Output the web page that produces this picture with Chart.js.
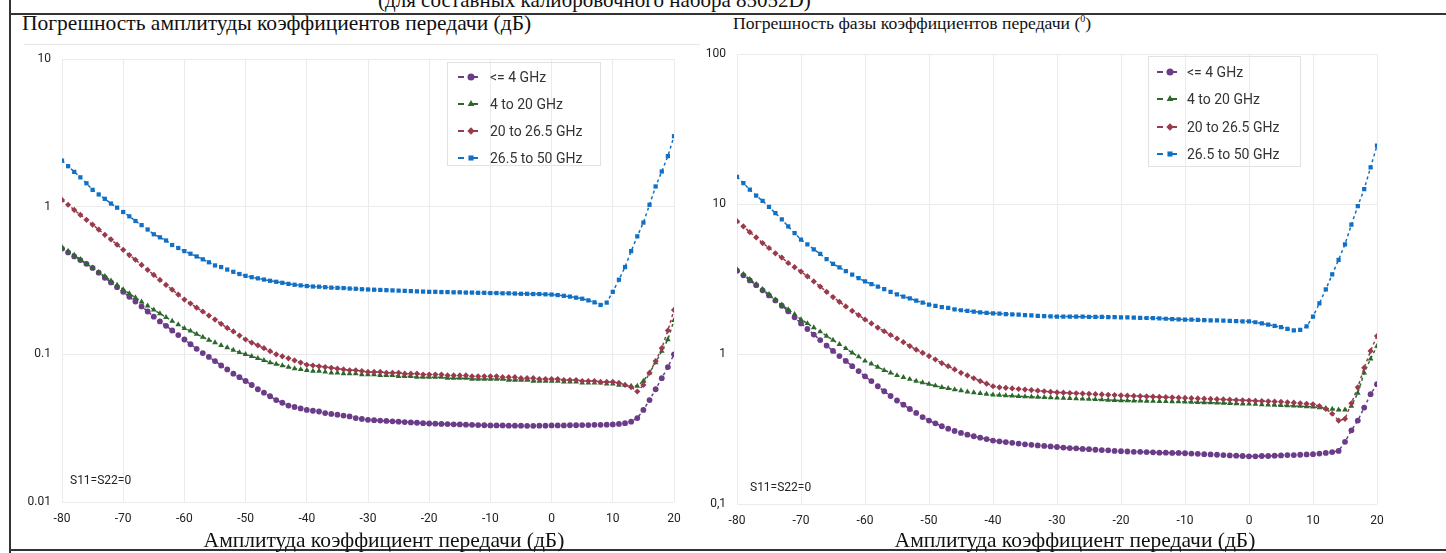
<!DOCTYPE html>
<html>
<head>
<meta charset="utf-8">
<script src="https://cdn.jsdelivr.net/npm/chart.js@4.4.1/dist/chart.umd.min.js"></script>
<style>
  body { margin: 0; width: 1446px; height: 553px; overflow: hidden; background: #fff; position: relative; font-family: Roboto, sans-serif; }
  .serif { position: absolute; font-family: "Liberation Serif", serif; color: #111; white-space: nowrap; line-height: 1; }
  .note { position: absolute; font-size: 12px; color: #222; white-space: nowrap; line-height: 1; }
  .line { position: absolute; background: #333; }
  .box { position: absolute; }
</style>
</head>
<body>

<div class="serif" style="left:378px; top:-10px; font-size:21px;">(для составных калибровочного набора 85052D)</div>
<div class="line" style="left:10px; top:13px; width:1436px; height:2px;"></div>
<div class="line" style="left:9px; top:0; width:2px; height:553px;"></div>
<div class="line" style="left:10px; top:549px; width:1436px; height:2px;"></div>
<div class="line" style="left:24px; top:44px; width:676px; height:1px; background:#e6e6e6;"></div>

<div class="serif" style="left:22px; top:13px; font-size:21.5px;">Погрешность амплитуды коэффициентов передачи (дБ)</div>
<div class="serif" style="left:733px; top:14px; font-size:17.6px;">Погрешность фазы коэффициентов передачи (<sup style="font-size:10px">0</sup>)</div>

<div class="box" style="left:12px; top:40px; width:684px; height:500px;"><canvas id="ampChart"></canvas></div>
<div class="box" style="left:700px; top:36px; width:700px; height:506px;"><canvas id="phaseChart"></canvas></div>

<div class="note" style="left:70px; top:474px;">S11=S22=0</div>
<div class="note" style="left:750px; top:481px;">S11=S22=0</div>

<div class="serif" style="left:384px; top:530px; font-size:21.5px; transform:translateX(-50%);">Амплитуда коэффициент передачи (дБ)</div>
<div class="serif" style="left:1075px; top:530px; font-size:21.5px; transform:translateX(-50%);">Амплитуда коэффициент передачи (дБ)</div>

<script>
// ось X: амплитуда коэффициента передачи, дБ
const xs = [
  -80, -79, -78, -77, -76, -75, -74, -73, -72, -71, -70,
  -69, -68, -67, -66, -65, -64, -63, -62, -61, -60,
  -59, -58, -57, -56, -55, -54, -53, -52, -51, -50,
  -49, -48, -47, -46, -45, -44, -43, -42, -41, -40,
  -39, -38, -37, -36, -35, -34, -33, -32, -31, -30,
  -29, -28, -27, -26, -25, -24, -23, -22, -21, -20,
  -19, -18, -17, -16, -15, -14, -13, -12, -11, -10,
  -9, -8, -7, -6, -5, -4, -3, -2, -1, 0,
  1, 2, 3, 4, 5, 6, 7, 8, 9, 10,
  11, 12, 13, 14, 15, 16, 17, 18, 19, 20
];

const seriesNames = ["<= 4 GHz", "4 to 20 GHz", "20 to 26.5 GHz", "26.5 to 50 GHz"];

// погрешность амплитуды, дБ
const ampLe4 = [
  0.52, 0.49, 0.46, 0.435, 0.41, 0.385, 0.357, 0.33, 0.307, 0.285, 0.265,
  0.245, 0.228, 0.211, 0.195, 0.18, 0.167, 0.156, 0.145, 0.135, 0.126,
  0.117, 0.109, 0.102, 0.096, 0.09, 0.084, 0.079, 0.074, 0.07, 0.066,
  0.062, 0.058, 0.055, 0.052, 0.049, 0.047, 0.045, 0.044, 0.043, 0.042,
  0.0415, 0.041, 0.04, 0.0395, 0.039, 0.0385, 0.038, 0.037, 0.0365, 0.036,
  0.0358, 0.0356, 0.0354, 0.0352, 0.035, 0.0348, 0.0346, 0.0344, 0.0342, 0.034,
  0.0339, 0.0338, 0.0337, 0.0336, 0.0335, 0.0334, 0.0333, 0.0332, 0.0331, 0.033,
  0.033, 0.033, 0.0329, 0.0329, 0.0329, 0.0328, 0.0328, 0.0329, 0.0329, 0.033,
  0.033, 0.033, 0.0331, 0.0331, 0.0332, 0.0332, 0.0333, 0.0333, 0.0334, 0.0335,
  0.0338, 0.0342, 0.035, 0.037, 0.042, 0.049, 0.058, 0.069, 0.082, 0.1
];
const amp4to20 = [
  0.53, 0.5, 0.47, 0.44, 0.41, 0.385, 0.36, 0.337, 0.315, 0.295, 0.275,
  0.258, 0.242, 0.227, 0.213, 0.2, 0.189, 0.178, 0.168, 0.159, 0.15,
  0.144, 0.137, 0.131, 0.125, 0.12, 0.115, 0.111, 0.107, 0.103, 0.1,
  0.097, 0.094, 0.091, 0.088, 0.086, 0.084, 0.082, 0.08, 0.079, 0.078,
  0.077, 0.077, 0.076, 0.075, 0.075, 0.074, 0.074, 0.074, 0.073, 0.073,
  0.073, 0.072, 0.072, 0.072, 0.071, 0.071, 0.071, 0.07, 0.07, 0.07,
  0.07, 0.07, 0.069, 0.069, 0.069, 0.069, 0.068, 0.068, 0.068, 0.068,
  0.068, 0.068, 0.067, 0.067, 0.067, 0.067, 0.066, 0.066, 0.066, 0.066,
  0.066, 0.065, 0.065, 0.065, 0.064, 0.064, 0.064, 0.064, 0.063, 0.063,
  0.062, 0.062, 0.061, 0.061, 0.066, 0.075, 0.088, 0.105, 0.126, 0.17
];
const amp20to26 = [
  1.11, 1.03, 0.95, 0.88, 0.815, 0.755, 0.7, 0.645, 0.6, 0.553, 0.51,
  0.47, 0.437, 0.403, 0.373, 0.345, 0.319, 0.295, 0.274, 0.254, 0.235,
  0.221, 0.207, 0.195, 0.183, 0.172, 0.161, 0.151, 0.143, 0.134, 0.126,
  0.12, 0.115, 0.11, 0.105, 0.1, 0.097, 0.094, 0.091, 0.088, 0.085,
  0.084, 0.083, 0.082, 0.081, 0.08, 0.079, 0.078, 0.078, 0.077, 0.076,
  0.076, 0.076, 0.075, 0.075, 0.075, 0.074, 0.074, 0.074, 0.073, 0.073,
  0.073, 0.073, 0.072, 0.072, 0.072, 0.072, 0.071, 0.071, 0.071, 0.071,
  0.071, 0.07, 0.07, 0.07, 0.069, 0.069, 0.069, 0.068, 0.068, 0.068,
  0.068, 0.067, 0.067, 0.067, 0.066, 0.066, 0.066, 0.065, 0.065, 0.065,
  0.064, 0.062, 0.06, 0.056, 0.062, 0.075, 0.09, 0.11, 0.145, 0.2
];
const amp26to50 = [
  2.05, 1.88, 1.72, 1.58, 1.44, 1.3, 1.21, 1.13, 1.05, 0.985, 0.92,
  0.86, 0.8, 0.75, 0.7, 0.65, 0.62, 0.59, 0.55, 0.525, 0.5,
  0.48, 0.46, 0.44, 0.42, 0.4, 0.39, 0.375, 0.362, 0.35, 0.34,
  0.333, 0.327, 0.321, 0.315, 0.31, 0.305, 0.3, 0.296, 0.293, 0.29,
  0.288, 0.287, 0.285, 0.283, 0.282, 0.281, 0.279, 0.278, 0.276, 0.275,
  0.274, 0.273, 0.272, 0.271, 0.27, 0.269, 0.268, 0.267, 0.266, 0.265,
  0.265, 0.264, 0.264, 0.263, 0.263, 0.262, 0.262, 0.261, 0.261, 0.26,
  0.26, 0.259, 0.259, 0.258, 0.257, 0.257, 0.256, 0.256, 0.255, 0.254,
  0.252, 0.249, 0.246, 0.242, 0.238, 0.232, 0.225, 0.216, 0.224, 0.265,
  0.32, 0.39, 0.5, 0.63, 0.78, 1.03, 1.37, 1.73, 2.2, 3.0
];

// погрешность фазы, градусы
const phaseLe4 = [
  3.6, 3.35, 3.1, 2.88, 2.66, 2.46, 2.28, 2.1, 1.93, 1.76, 1.6,
  1.47, 1.35, 1.24, 1.14, 1.05, 0.97, 0.9, 0.83, 0.77, 0.71,
  0.66, 0.61, 0.565, 0.525, 0.49, 0.46, 0.43, 0.405, 0.38, 0.36,
  0.345, 0.33, 0.318, 0.307, 0.298, 0.29, 0.283, 0.277, 0.271, 0.265,
  0.262, 0.259, 0.256, 0.253, 0.25, 0.248, 0.246, 0.244, 0.242, 0.24,
  0.238, 0.236, 0.235, 0.233, 0.232, 0.23, 0.229, 0.228, 0.226, 0.225,
  0.224, 0.223, 0.223, 0.222, 0.221, 0.22, 0.22, 0.219, 0.219, 0.218,
  0.217, 0.216, 0.215, 0.214, 0.213, 0.212, 0.211, 0.21, 0.209, 0.208,
  0.208, 0.209, 0.209, 0.21, 0.211, 0.212, 0.212, 0.213, 0.214, 0.215,
  0.217, 0.219, 0.222, 0.226, 0.26, 0.31, 0.36, 0.44, 0.54, 0.63
];
const phase4to20 = [
  3.66, 3.4, 3.15, 2.92, 2.7, 2.5, 2.3, 2.13, 1.98, 1.84, 1.7,
  1.6, 1.5, 1.41, 1.32, 1.24, 1.16, 1.09, 1.02, 0.96, 0.9,
  0.86, 0.82, 0.78, 0.75, 0.72, 0.7, 0.68, 0.66, 0.645, 0.63,
  0.615, 0.6, 0.59, 0.58, 0.57, 0.56, 0.553, 0.547, 0.541, 0.535,
  0.532, 0.529, 0.526, 0.523, 0.52, 0.518, 0.516, 0.514, 0.512, 0.51,
  0.508, 0.506, 0.504, 0.502, 0.5, 0.498, 0.496, 0.494, 0.492, 0.49,
  0.489, 0.488, 0.487, 0.486, 0.485, 0.484, 0.483, 0.482, 0.481, 0.48,
  0.478, 0.477, 0.475, 0.474, 0.472, 0.471, 0.469, 0.468, 0.466, 0.465,
  0.463, 0.461, 0.459, 0.457, 0.455, 0.453, 0.451, 0.449, 0.447, 0.445,
  0.44, 0.435, 0.43, 0.425, 0.425, 0.45, 0.55, 0.75, 0.93, 1.13
];
const phase20to26 = [
  7.7, 7.1, 6.5, 6.0, 5.5, 5.1, 4.7, 4.4, 4.05, 3.8, 3.55,
  3.3, 3.05, 2.82, 2.6, 2.4, 2.23, 2.08, 1.94, 1.82, 1.7,
  1.6, 1.5, 1.42, 1.34, 1.27, 1.2, 1.13, 1.07, 1.02, 0.97,
  0.92, 0.87, 0.83, 0.79, 0.75, 0.72, 0.69, 0.66, 0.635, 0.61,
  0.6, 0.595, 0.59, 0.585, 0.58, 0.575, 0.57, 0.565, 0.56, 0.555,
  0.553, 0.55, 0.548, 0.545, 0.543, 0.54, 0.538, 0.535, 0.533, 0.53,
  0.528, 0.526, 0.524, 0.522, 0.52, 0.518, 0.516, 0.514, 0.512, 0.51,
  0.508, 0.506, 0.504, 0.502, 0.5, 0.498, 0.496, 0.494, 0.492, 0.49,
  0.488, 0.486, 0.484, 0.482, 0.48, 0.477, 0.474, 0.47, 0.466, 0.462,
  0.45, 0.43, 0.4, 0.36, 0.37, 0.47, 0.6, 0.81, 1.05, 1.32
];
const phase26to50 = [
  15.2, 13.8, 12.5, 11.4, 10.5, 9.6, 8.7, 7.9, 7.1, 6.4, 5.8,
  5.4, 5.0, 4.65, 4.3, 4.0, 3.78, 3.58, 3.39, 3.21, 3.05,
  2.93, 2.82, 2.71, 2.6, 2.5, 2.42, 2.35, 2.27, 2.2, 2.14,
  2.1, 2.06, 2.03, 1.99, 1.96, 1.94, 1.92, 1.9, 1.88, 1.87,
  1.86, 1.85, 1.84, 1.83, 1.82, 1.81, 1.8, 1.79, 1.785, 1.78,
  1.78, 1.778, 1.776, 1.774, 1.772, 1.77, 1.768, 1.765, 1.762, 1.76,
  1.755, 1.75, 1.745, 1.74, 1.735, 1.73, 1.72, 1.71, 1.705, 1.7,
  1.695, 1.69, 1.685, 1.68, 1.675, 1.67, 1.665, 1.66, 1.655, 1.65,
  1.63, 1.6, 1.57, 1.54, 1.51, 1.47, 1.44, 1.45, 1.53, 1.78,
  2.18, 2.7, 3.4, 4.25, 5.4, 7.3, 9.7, 12.6, 17.6, 24.6
];

// подписи делений
const xTicks = [-80, -70, -60, -50, -40, -30, -20, -10, 0, 10, 20];
const ampTicks = [0.01, 0.1, 1, 10];
const ampTickLabels = ["0.01", "0.1", "1", "10"];
const phaseTicks = [0.1, 1, 10, 100];
const phaseTickLabels = ["0,1", "1", "10", "100"];

const colors = ["#6b3c88", "#2c682c", "#9a3a4d", "#1170c4"];
const styles = ["circle", "triangle", "rectRot", "rect"];
const radii = [2.9, 3.3, 3.1, 3.0];

function makeDatasets(list) {
  return list.map((vals, i) => ({
    label: seriesNames[i],
    data: xs.map((x, k) => ({ x: x, y: vals[k] })),
    borderColor: colors[i],
    backgroundColor: colors[i],
    borderWidth: 1.5,
    borderDash: [3, 3],
    pointStyle: styles[i],
    pointRadius: radii[i],
    pointBorderWidth: 0,
    pointBackgroundColor: colors[i],
    order: 4 - i
  }));
}

// легенда внутри области графика
const boxLegend = {
  id: "boxLegend",
  afterDraw(chart, args, o) {
    const ctx = chart.ctx;
    ctx.save();
    ctx.strokeStyle = "#e2e2e2";
    ctx.lineWidth = 1;
    ctx.strokeRect(o.x + 0.5, o.y + 0.5, o.w, o.h);
    ctx.font = "14px Roboto, sans-serif";
    ctx.textBaseline = "middle";
    chart.data.datasets.forEach((ds, i) => {
      const cy = o.rowY[i];
      ctx.strokeStyle = ds.borderColor;
      ctx.fillStyle = ds.borderColor;
      ctx.lineWidth = 1.8;
      ctx.setLineDash([]);
      ctx.beginPath();
      ctx.moveTo(o.symX, cy); ctx.lineTo(o.symX + 6, cy);
      ctx.moveTo(o.symX + 12, cy); ctx.lineTo(o.symX + 20, cy);
      ctx.stroke();
      Chart.helpers.drawPoint(ctx, { pointStyle: ds.pointStyle, radius: ds.pointRadius + 0.6, rotation: 0, borderWidth: 0 }, o.symX + 13, cy);
      ctx.fillStyle = "#333";
      ctx.fillText(ds.label, o.textX, cy + 1);
    });
    ctx.restore();
  }
};

function makeChart(id, sets, yMin, yMax, ticks, labels, yWidth, pad, legend) {
  return new Chart(document.getElementById(id), {
    type: "line",
    data: { datasets: makeDatasets(sets) },
    plugins: [boxLegend],
    options: {
      responsive: true,
      maintainAspectRatio: false,
      animation: false,
      layout: { padding: pad },
      plugins: { legend: { display: false }, tooltip: { enabled: false }, boxLegend: legend },
      scales: {
        x: {
          type: "linear", min: -80, max: 20,
          afterBuildTicks: s => { s.ticks = xTicks.map(v => ({ value: v })); },
          afterFit: s => { s.height = 38; },
          grid: { color: "#ebebeb", drawTicks: false },
          border: { display: false },
          ticks: { padding: 10, color: "#222", font: { size: 12, family: "Roboto" }, callback: v => String(v) }
        },
        y: {
          type: "logarithmic", min: yMin, max: yMax,
          afterBuildTicks: s => { s.ticks = ticks.map(v => ({ value: v })); },
          afterFit: s => { s.width = yWidth; },
          grid: { color: "#ebebeb", drawTicks: false },
          border: { display: false },
          ticks: { padding: 11, color: "#222", font: { size: 12, family: "Roboto" }, callback: (v, i) => labels[i] }
        }
      }
    }
  });
}

makeChart("ampChart", [ampLe4, amp4to20, amp20to26, amp26to50], 0.01, 10, ampTicks, ampTickLabels, 50,
  { top: 19, right: 22, left: 0, bottom: 0 },
  { x: 435, y: 22, w: 153, h: 103, rowY: [37, 64, 91, 118], symX: 446, textX: 478 });

makeChart("phaseChart", [phaseLe4, phase4to20, phase20to26, phase26to50], 0.1, 100, phaseTicks, phaseTickLabels, 37,
  { top: 15, right: 23, left: 0, bottom: 0 },
  { x: 448, y: 20, w: 152, h: 110, rowY: [36, 63, 91, 118], symX: 457, textX: 487 });
</script>
</body>
</html>
